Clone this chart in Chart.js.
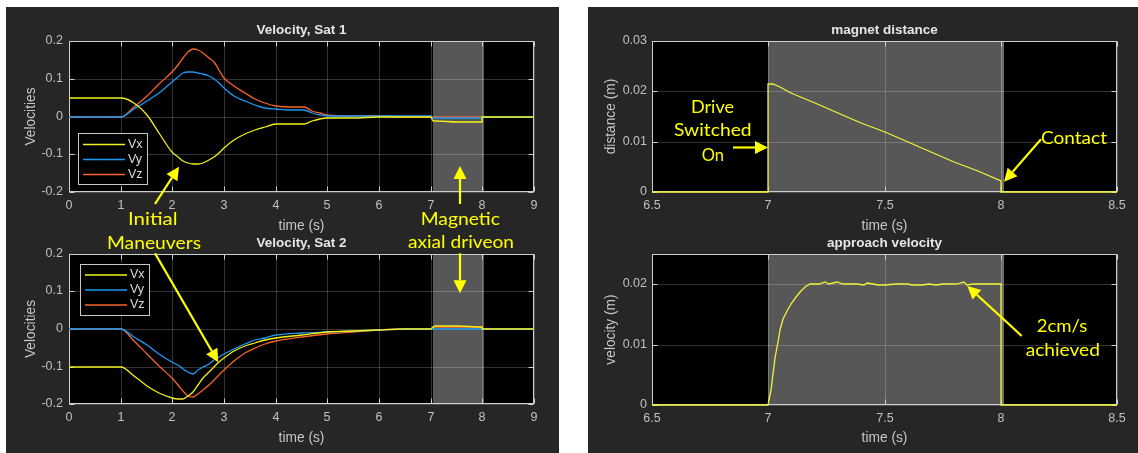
<!DOCTYPE html>
<html><head><meta charset="utf-8">
<script src="https://cdn.jsdelivr.net/npm/chart.js@4"></script>
<style>
html,body{margin:0;padding:0;background:#fff;width:1138px;height:453px;overflow:hidden;position:relative}
.panel{position:absolute;background:#262626}
canvas{position:absolute}
svg{position:absolute;left:0;top:0}
</style></head><body>
<div class="panel" style="left:6px;top:7px;width:553px;height:446px"></div>
<div class="panel" style="left:588px;top:7px;width:550px;height:446px"></div>
<canvas id="c1" style="left:6px;top:7px" width="553" height="240"></canvas>
<canvas id="c2" style="left:6px;top:230px" width="553" height="223"></canvas>
<canvas id="c3" style="left:588px;top:7px" width="550" height="240"></canvas>
<canvas id="c4" style="left:588px;top:230px" width="550" height="223"></canvas>
<svg id="ann" width="1138" height="453"></svg>
<script>
// ---------- data ----------
const sat1Time = [0, 1, 1.25, 1.5, 1.75, 2, 2.1, 2.2, 2.3, 2.4, 2.5, 2.6, 2.7, 2.8, 2.9, 3, 3.2, 3.4, 3.6, 3.8, 4, 4.3, 4.55, 4.7, 4.85, 5, 5.5, 6, 6.5, 7, 7.05, 7.1, 7.5, 7.995, 8, 8.5, 9];
const sat1Vx = [0.05, 0.05, 0.035, 0.004, -0.043, -0.093, -0.108, -0.119, -0.123, -0.125, -0.125, -0.122, -0.116, -0.108, -0.097, -0.084, -0.062, -0.047, -0.036, -0.027, -0.02, -0.02, -0.02, -0.013, -0.007, -0.005, -0.003, -0.002, -0.001, 0, -0.011, -0.013, -0.014, -0.015, 0, 0, 0];
const sat1Vy = [0, 0, 0.02, 0.04, 0.063, 0.092, 0.104, 0.114, 0.119, 0.119, 0.116, 0.112, 0.107, 0.1, 0.089, 0.075, 0.055, 0.04, 0.03, 0.023, 0.019, 0.017, 0.016, 0.009, 0.004, 0.002, 0.002, 0.002, 0.001, 0.001, -0.004, -0.005, -0.005, -0.005, 0, 0, 0];
const sat1Vz = [0, 0, 0.026, 0.053, 0.085, 0.119, 0.137, 0.155, 0.172, 0.18, 0.176, 0.167, 0.156, 0.144, 0.123, 0.101, 0.08, 0.062, 0.046, 0.035, 0.028, 0.026, 0.025, 0.015, 0.008, 0.005, 0.002, 0.001, 0, 0, 0, 0, 0, 0, 0, 0, 0];

const sat2Time = [0, 1, 1.25, 1.5, 1.75, 2, 2.1, 2.2, 2.3, 2.4, 2.5, 2.6, 2.7, 2.8, 2.9, 3, 3.2, 3.4, 3.6, 3.8, 4, 4.5, 5, 5.5, 6, 6.5, 7, 7.05, 7.1, 7.5, 7.995, 8, 8.5, 9];
const sat2Vx = [-0.1, -0.1, -0.125, -0.152, -0.17, -0.184, -0.187, -0.187, -0.179, -0.167, -0.148, -0.13, -0.115, -0.1, -0.088, -0.077, -0.06, -0.046, -0.036, -0.029, -0.024, -0.015, -0.008, -0.005, -0.003, -0.001, 0, 0.006, 0.007, 0.007, 0.006, 0, 0, 0];
const sat2Vy = [0, 0, -0.022, -0.044, -0.066, -0.088, -0.097, -0.106, -0.115, -0.119, -0.11, -0.101, -0.092, -0.082, -0.075, -0.068, -0.053, -0.04, -0.03, -0.023, -0.017, -0.011, -0.007, -0.004, -0.002, -0.001, 0, 0, 0, 0, 0, 0, 0, 0];
const sat2Vz = [0, 0, -0.033, -0.066, -0.098, -0.131, -0.148, -0.165, -0.178, -0.18, -0.172, -0.162, -0.15, -0.137, -0.122, -0.108, -0.084, -0.064, -0.051, -0.041, -0.033, -0.02, -0.012, -0.007, -0.003, -0.001, 0, 0.006, 0.006, 0.006, 0.006, 0, 0, 0];

const distTime = [6.5, 7, 7, 7.02, 7.05, 7.1, 7.15, 7.2, 7.3, 7.4, 7.5, 7.6, 7.7, 7.8, 7.9, 8.0, 8.0, 8.5];
const distValue = [0, 0, 0.0214, 0.0214, 0.0208, 0.0197, 0.0187, 0.0177, 0.0157, 0.0138, 0.0119, 0.00995, 0.008, 0.006, 0.0041, 0.0021, 0, 0];

const velTime = [6.5, 7.0, 7.01, 7.02, 7.03, 7.04, 7.05, 7.065, 7.08, 7.1, 7.12, 7.14, 7.16, 7.18, 7.2, 7.22, 7.244, 7.26, 7.295, 7.32, 7.38, 7.41, 7.425, 7.45, 7.474, 7.5, 7.55, 7.6, 7.62, 7.66, 7.69, 7.72, 7.75, 7.78, 7.81, 7.825, 7.84, 7.855, 7.88, 7.91, 7.95, 7.985, 8.0, 8.0, 8.5];
const velValue = [0, 0, 0.0025, 0.0052, 0.0077, 0.0104, 0.0125, 0.0142, 0.0155, 0.0167, 0.0178, 0.0189, 0.0196, 0.02, 0.02, 0.02, 0.0203, 0.02, 0.0203, 0.0201, 0.0201, 0.0199, 0.0202, 0.02, 0.01985, 0.0199, 0.02, 0.0201, 0.0199, 0.0199, 0.0201, 0.0199, 0.0201, 0.02, 0.0201, 0.0202, 0.0203, 0.0199, 0.0201, 0.02, 0.0201, 0.0201, 0.02, 0, 0];

const leftXTicks = [0, 1, 2, 3, 4, 5, 6, 7, 8, 9];
const leftXLabels = ['0', '1', '2', '3', '4', '5', '6', '7', '8', '9'];
const leftYTicks = [-0.2, -0.1, 0, 0.1, 0.2];
const leftYLabels = ['-0.2', '-0.1', '0', '0.1', '0.2'];
const rightXTicks = [6.5, 7, 7.5, 8, 8.5];
const rightXLabels = ['6.5', '7', '7.5', '8', '8.5'];
const distYTicks = [0, 0.01, 0.02, 0.03];
const distYLabels = ['0', '0.01', '0.02', '0.03'];
const velYTicks = [0, 0.01, 0.02];
const velYLabels = ['0', '0.01', '0.02'];
const seriesNames = ['Vx', 'Vy', 'Vz'];

// ---------- style ----------
const FONT = '"Liberation Sans", Arial, sans-serif';
const COL = { vx: '#f0f018', vy: '#1a9af5', vz: '#f5642a', dist: '#f2f23a' };
const TICK_COLOR = '#c0c0c0';
const AXIS_TITLE_COLOR = '#c8c8c8';
const GRID = 'rgba(255,255,255,0.2)';
const BOX = '#cfcfcf';
Chart.defaults.font.family = FONT;

const pts = (xs, ys) => xs.map((x, i) => ({ x, y: ys[i] }));

const decor = {
  id: 'decor',
  beforeDraw(chart, args, o) {
    const { ctx, chartArea: a, scales: { x } } = chart;
    ctx.save();
    ctx.fillStyle = '#000';
    ctx.fillRect(a.left, a.top, a.width, a.height);
    (o.bands || []).forEach(b => {
      const x0 = x.getPixelForValue(b.from), x1 = x.getPixelForValue(b.to);
      ctx.fillStyle = b.color;
      ctx.fillRect(x0, a.top, x1 - x0, a.height);
    });
    ctx.restore();
  },
  beforeDatasetsDraw(chart, args, o) {
    const { ctx, chartArea: a, scales: { x, y } } = chart;
    ctx.save();
    ctx.strokeStyle = BOX; ctx.lineWidth = 1;
    const L = Math.round(a.left) + 0.5, R = Math.round(a.right) - 0.5, T = Math.round(a.top) + 0.5, B = Math.round(a.bottom) - 0.5;
    ctx.strokeRect(L, T, R - L, B - T);
    ctx.beginPath();
    x.ticks.forEach(t => { const p = Math.round(x.getPixelForValue(t.value)) + 0.5; ctx.moveTo(p, T); ctx.lineTo(p, T + 5); ctx.moveTo(p, B); ctx.lineTo(p, B - 5); });
    y.ticks.forEach(t => { const p = Math.round(y.getPixelForValue(t.value)) + 0.5; ctx.moveTo(L, p); ctx.lineTo(L + 5, p); ctx.moveTo(R, p); ctx.lineTo(R - 5, p); });
    ctx.stroke();
    ctx.restore();
  },
  afterDraw(chart, args, o) {
    const { ctx, chartArea: a } = chart;
    ctx.save();
    ctx.fillStyle = '#e6e6e6';
    ctx.font = 'bold 13.5px ' + FONT;
    ctx.textAlign = 'center'; ctx.textBaseline = 'middle';
    ctx.fillText(o.title, (a.left + a.right) / 2, a.top - 11);
    if (o.legend) {
      const lx = a.left + o.legend.dx, ly = a.top + o.legend.dy;
      ctx.fillStyle = '#000'; ctx.fillRect(lx, ly, 69, 51);
      ctx.strokeStyle = '#c8c8c8'; ctx.lineWidth = 1; ctx.strokeRect(Math.round(lx) + 0.5, Math.round(ly) + 0.5, 69, 51);
      ctx.font = '12.5px ' + FONT; ctx.textAlign = 'left';
      chart.data.datasets.forEach((d, i) => {
        const yy = ly + 11.5 + i * 15;
        ctx.strokeStyle = d.borderColor; ctx.lineWidth = 1.5;
        ctx.beginPath(); ctx.moveTo(lx + 5, yy); ctx.lineTo(lx + 47, yy); ctx.stroke();
        ctx.fillStyle = '#dcdcdc'; ctx.fillText(d.label, lx + 50, yy);
      });
    }
    ctx.restore();
  }
};

function scales(c) {
  return {
    x: {
      type: 'linear', min: c.xMin, max: c.xMax, alignToPixels: true,
      afterBuildTicks: s => { s.ticks = c.xTicks.map(v => ({ value: v })); },
      afterFit: s => { s.height = c.xHeight; },
      ticks: { color: TICK_COLOR, font: { size: 12.5 }, padding: 6, maxRotation: 0, autoSkip: false, callback: (v, i) => c.xLabels[i] },
      grid: { color: GRID, drawTicks: false },
      border: { display: false },
      title: { display: true, text: 'time (s)', color: AXIS_TITLE_COLOR, font: { size: 13.75 }, padding: { top: 0, bottom: c.xTitlePad } }
    },
    y: {
      type: 'linear', min: c.yMin, max: c.yMax, alignToPixels: true,
      afterBuildTicks: s => { s.ticks = c.yTicks.map(v => ({ value: v })); },
      afterFit: s => { s.width = c.yWidth; },
      ticks: { color: TICK_COLOR, font: { size: 12.5 }, padding: c.yTickPad, autoSkip: false, callback: (v, i) => c.yLabels[i] },
      grid: { color: GRID, drawTicks: false },
      border: { display: false },
      title: { display: true, text: c.yTitle, color: AXIS_TITLE_COLOR, font: { size: 13.75 }, padding: { top: c.yTitlePad, bottom: 0 } }
    }
  };
}

function line(label, xs, ys, color, smooth) {
  return { label, data: pts(xs, ys), borderColor: color, backgroundColor: color, borderWidth: 1.3, pointRadius: 0, tension: 0, cubicInterpolationMode: smooth ? 'monotone' : 'default', clip: 4, fill: false };
}

function make(id, datasets, sc, pad, deco) {
  new Chart(document.getElementById(id), {
    type: 'line',
    data: { datasets },
    options: {
      responsive: false, animation: false, events: [],
      layout: { padding: pad },
      plugins: { legend: { display: false }, tooltip: { enabled: false }, title: { display: false }, decor: deco },
      scales: scales(sc)
    },
    plugins: [decor]
  });
}

const leftBands = [{ from: 7.05, to: 8.025, color: '#575757' }];
const rightBands = [{ from: 7.0, to: 8.0, color: '#575757' }, { from: 8.0, to: 8.016, color: '#6c6c6c' }];

make('c1', [
  line(seriesNames[0], sat1Time, sat1Vx, COL.vx, true),
  line(seriesNames[1], sat1Time, sat1Vy, COL.vy, true),
  line(seriesNames[2], sat1Time, sat1Vz, COL.vz, true)
], { xMin: 0, xMax: 9, xTicks: leftXTicks, xLabels: leftXLabels, xHeight: 55, xTitlePad: 12.75,
     yMin: -0.2, yMax: 0.2, yTicks: leftYTicks, yLabels: leftYLabels, yWidth: 63, yTickPad: 6, yTitle: 'Velocities', yTitlePad: 17.45 },
   { top: 34, right: 25, left: 0, bottom: 0 },
   { title: 'Velocity, Sat 1', bands: leftBands, legend: { dx: 9, dy: 92 } });

make('c2', [
  line(seriesNames[0], sat2Time, sat2Vx, COL.vx, true),
  line(seriesNames[1], sat2Time, sat2Vy, COL.vy, true),
  line(seriesNames[2], sat2Time, sat2Vz, COL.vz, true)
], { xMin: 0, xMax: 9, xTicks: leftXTicks, xLabels: leftXLabels, xHeight: 49, xTitlePad: 6.75,
     yMin: -0.2, yMax: 0.2, yTicks: leftYTicks, yLabels: leftYLabels, yWidth: 63, yTickPad: 6, yTitle: 'Velocities', yTitlePad: 17.45 },
   { top: 24, right: 25, left: 0, bottom: 0 },
   { title: 'Velocity, Sat 2', bands: leftBands, legend: { dx: 11, dy: 9.5 } });

make('c3', [ line('distance', distTime, distValue, COL.dist, false) ],
   { xMin: 6.5, xMax: 8.5, xTicks: rightXTicks, xLabels: rightXLabels, xHeight: 55, xTitlePad: 12.75,
     yMin: 0, yMax: 0.03, yTicks: distYTicks, yLabels: distYLabels, yWidth: 64, yTickPad: 5, yTitle: 'distance (m)', yTitlePad: 15.45 },
   { top: 34, right: 21, left: 0, bottom: 0 },
   { title: 'magnet distance', bands: rightBands });

make('c4', [ line('velocity', velTime, velValue, COL.dist, false) ],
   { xMin: 6.5, xMax: 8.5, xTicks: rightXTicks, xLabels: rightXLabels, xHeight: 48, xTitlePad: 6.45,
     yMin: 0, yMax: 0.025, yTicks: velYTicks, yLabels: velYLabels, yWidth: 64, yTickPad: 5, yTitle: 'velocity (m)', yTitlePad: 15.45 },
   { top: 24, right: 21, left: 0, bottom: 0 },
   { title: 'approach velocity', bands: rightBands });

// ---------- annotations ----------
const NS = 'http://www.w3.org/2000/svg';
const svg = document.getElementById('ann');
const YEL = '#ffff00';
function addText(str, cx, cy, w) {
  const t = document.createElementNS(NS, 'text');
  t.setAttribute('x', cx); t.setAttribute('y', cy);
  t.setAttribute('text-anchor', 'middle'); t.setAttribute('dominant-baseline', 'central');
  t.setAttribute('font-family', 'Lato, "Open Sans", sans-serif'); t.setAttribute('font-size', '17');
  t.setAttribute('fill', YEL);
  t.setAttribute('textLength', w); t.setAttribute('lengthAdjust', 'spacingAndGlyphs');
  t.textContent = str; svg.appendChild(t);
}
function addArrow(x1, y1, x2, y2) {
  const dx = x2 - x1, dy = y2 - y1, len = Math.hypot(dx, dy), ux = dx / len, uy = dy / len;
  const hl = 13, hw = 6.5, bx = x2 - ux * hl, by = y2 - uy * hl;
  const l = document.createElementNS(NS, 'line');
  l.setAttribute('x1', x1); l.setAttribute('y1', y1); l.setAttribute('x2', bx); l.setAttribute('y2', by);
  l.setAttribute('stroke', YEL); l.setAttribute('stroke-width', '2.2'); svg.appendChild(l);
  const p = document.createElementNS(NS, 'polygon');
  p.setAttribute('points', `${x2},${y2} ${bx - uy * hw},${by + ux * hw} ${bx + uy * hw},${by - ux * hw}`);
  p.setAttribute('fill', YEL); svg.appendChild(p);
}
addText('Initial', 152.8, 218, 49.6);
addText('Maneuvers', 154, 242, 94);
addText('Magnetic', 460.3, 218, 79.3);
addText('axial driveon', 461, 241.7, 106);
addText('Drive', 712.5, 106, 43);
addText('Switched', 712.8, 129.7, 77.7);
addText('On', 712.8, 154, 22.3);
addText('Contact', 1074, 137.7, 66);
addText('2cm/s', 1062, 325.7, 50.7);
addText('achieved', 1062.8, 349.3, 74.3);
addArrow(155, 204, 179, 166.7);
addArrow(155, 253.3, 218.3, 362.3);
addArrow(460, 204, 460, 166);
addArrow(460, 253.3, 460, 293.3);
addArrow(733, 147.5, 768, 147.5);
addArrow(1041, 139.3, 1004, 181.7);
addArrow(1021.7, 336, 967.3, 286);
</script>
</body></html>
